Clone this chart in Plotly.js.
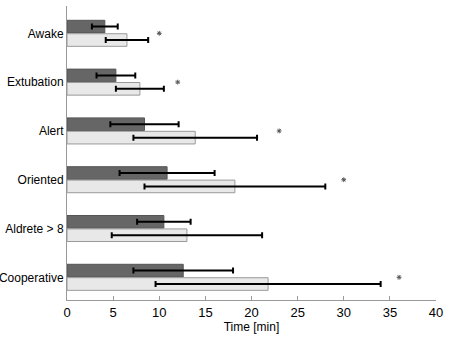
<!DOCTYPE html>
<html>
<head>
<meta charset="utf-8">
<script src="https://cdn.plot.ly/plotly-3.0.1.min.js"></script>
<style>html,body{margin:0;padding:0;background:#fff;}#chart{width:453px;height:340px;}</style>
</head>
<body>
<div id="chart"></div>
<script>
var categories = ["Awake", "Extubation", "Alert", "Oriented", "Aldrete > 8", "Cooperative"];
var darkValues = [4.1, 5.3, 8.4, 10.85, 10.5, 12.6];
var darkErrors = [1.4, 2.1, 3.7, 5.15, 2.9, 5.4];
var lightValues = [6.5, 7.9, 13.9, 18.2, 13.0, 21.8];
var lightErrors = [2.3, 2.6, 6.7, 9.8, 8.15, 12.2];
var starValues = [10.0, 12.0, 23.0, 30.0, null, 36.0];
var xTicks = [0, 5, 10, 15, 20, 25, 30, 35, 40];

var data = [
  {
    type: "bar", orientation: "h", y: categories, x: darkValues,
    marker: {color: "#666666", line: {color: "#555555", width: 1}},
    error_x: {type: "data", array: darkErrors, visible: true, color: "#000000", thickness: 2, width: 3},
    showlegend: false, hoverinfo: "skip"
  },
  {
    type: "bar", orientation: "h", y: categories, x: lightValues,
    marker: {color: "#e8e8e8", line: {color: "#9a9a9a", width: 1}},
    error_x: {type: "data", array: lightErrors, visible: true, color: "#000000", thickness: 2, width: 3},
    showlegend: false, hoverinfo: "skip"
  },
  {
    type: "scatter", mode: "markers", y: categories, x: starValues,
    marker: {symbol: "asterisk-open", size: 4, color: "#555555", line: {color: "#555555", width: 1}},
    showlegend: false, hoverinfo: "skip"
  }
];

var layout = {
  width: 453, height: 340,
  margin: {l: 67, r: 17, t: 6, b: 40},
  paper_bgcolor: "#ffffff", plot_bgcolor: "#ffffff",
  font: {family: "Liberation Sans, Arial, sans-serif", size: 12, color: "#000000"},
  barmode: "group", bargap: 0.45, bargroupgap: 0.06,
  xaxis: {
    range: [0, 40], tickvals: xTicks, ticktext: xTicks.map(String),
    showgrid: false, zeroline: false,
    showline: true, linecolor: "#999999", linewidth: 1,
    ticks: "inside", ticklen: 4, tickcolor: "#999999",
    tickfont: {size: 13, color: "#000000"},
    title: {text: "Time [min]", font: {size: 12, color: "#000000"}, standoff: 3}
  },
  yaxis: {
    type: "category", categoryorder: "array", categoryarray: categories,
    range: [5.465, -0.56],
    showgrid: false, zeroline: false,
    showline: true, linecolor: "#999999", linewidth: 1,
    ticks: "", tickfont: {size: 12, color: "#000000"}
  }
};

Plotly.newPlot("chart", data, layout, {staticPlot: true, displayModeBar: false});
</script>
</body>
</html>
